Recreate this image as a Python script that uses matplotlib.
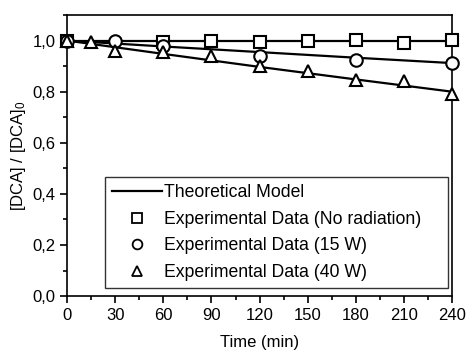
import matplotlib
matplotlib.use('Agg')
import matplotlib.pyplot as plt
from matplotlib.lines import Line2D
from matplotlib.ticker import MultipleLocator, FuncFormatter

plt.rcParams['font.family'] = ['Liberation Sans', 'DejaVu Sans']
plt.rcParams['mathtext.default'] = 'regular'

# experimental data
t_none = [0, 60, 90, 120, 150, 180, 210, 240]
c_none = [1.0, 0.993, 0.997, 0.993, 1.0, 1.004, 0.992, 1.004]

t_15w = [0, 30, 60, 120, 180, 240]
c_15w = [1.0, 1.0, 0.978, 0.941, 0.925, 0.912]

t_40w = [0, 15, 30, 60, 90, 120, 150, 180, 210, 240]
c_40w = [1.0, 0.993, 0.96, 0.956, 0.94, 0.90, 0.88, 0.847, 0.84, 0.79]

# theoretical model curves
t_model = [0, 60, 120, 180, 240]
m_none = [1.0, 1.0, 1.0, 1.0, 1.0]
m_15w = [1.0, 0.977, 0.955, 0.933, 0.912]
m_40w = [1.0, 0.948, 0.897, 0.848, 0.80]

fig = plt.figure(figsize=(4.69, 3.5), dpi=100)
ax = fig.add_axes([0.143, 0.154, 0.821, 0.803])

for tm, m in [(t_model, m_none), (t_model, m_15w), (t_model, m_40w)]:
    ax.plot(tm, m, color='black', lw=1.6, zorder=2)

mk = dict(color='black', ls='none', mfc='white', mec='black', mew=1.5,
          ms=9, clip_on=False, zorder=3)
ax.plot(t_none, c_none, marker='s', **mk)
ax.plot(t_15w, c_15w, marker='o', **mk)
ax.plot(t_40w, c_40w, marker='^', **mk)

ax.set_xlim(0, 240)
ax.set_ylim(0, 1.1)
ax.xaxis.set_major_locator(MultipleLocator(30))
ax.xaxis.set_minor_locator(MultipleLocator(15))
ax.yaxis.set_major_locator(MultipleLocator(0.2))
ax.yaxis.set_minor_locator(MultipleLocator(0.1))
ax.yaxis.set_major_formatter(FuncFormatter(lambda v, p: f'{v:.1f}'.replace('.', ',')))
ax.tick_params(which='major', length=5, width=1.2, labelsize=12, direction='out')
ax.tick_params(which='minor', length=3, width=1.2, direction='out')
for s in ax.spines.values():
    s.set_linewidth(1.2)

ax.set_xlabel('Time (min)', fontsize=12, labelpad=9)
ax.set_ylabel('[DCA] / [DCA]$_0$', fontsize=12, labelpad=3)

handles = [
    Line2D([], [], color='black', lw=1.6),
    Line2D([], [], marker='s', ls='none', mfc='white', mec='black', mew=1.3, ms=7),
    Line2D([], [], marker='o', ls='none', mfc='white', mec='black', mew=1.3, ms=7),
    Line2D([], [], marker='^', ls='none', mfc='white', mec='black', mew=1.3, ms=7),
]
labels = ['Theoretical Model', 'Experimental Data (No radiation)',
          'Experimental Data (15 W)', 'Experimental Data (40 W)']
leg = ax.legend(handles, labels, loc='lower left',
                bbox_to_anchor=(0.099, 0.028, 0.891, 0.40), mode='expand',
                fontsize=12.7, fancybox=False, framealpha=1, edgecolor='#333333',
                handlelength=2.8, handletextpad=0.15, labelspacing=0.55,
                borderpad=0.4, borderaxespad=0)
leg.get_frame().set_linewidth(1.0)

plt.savefig('out.png', dpi=100)
